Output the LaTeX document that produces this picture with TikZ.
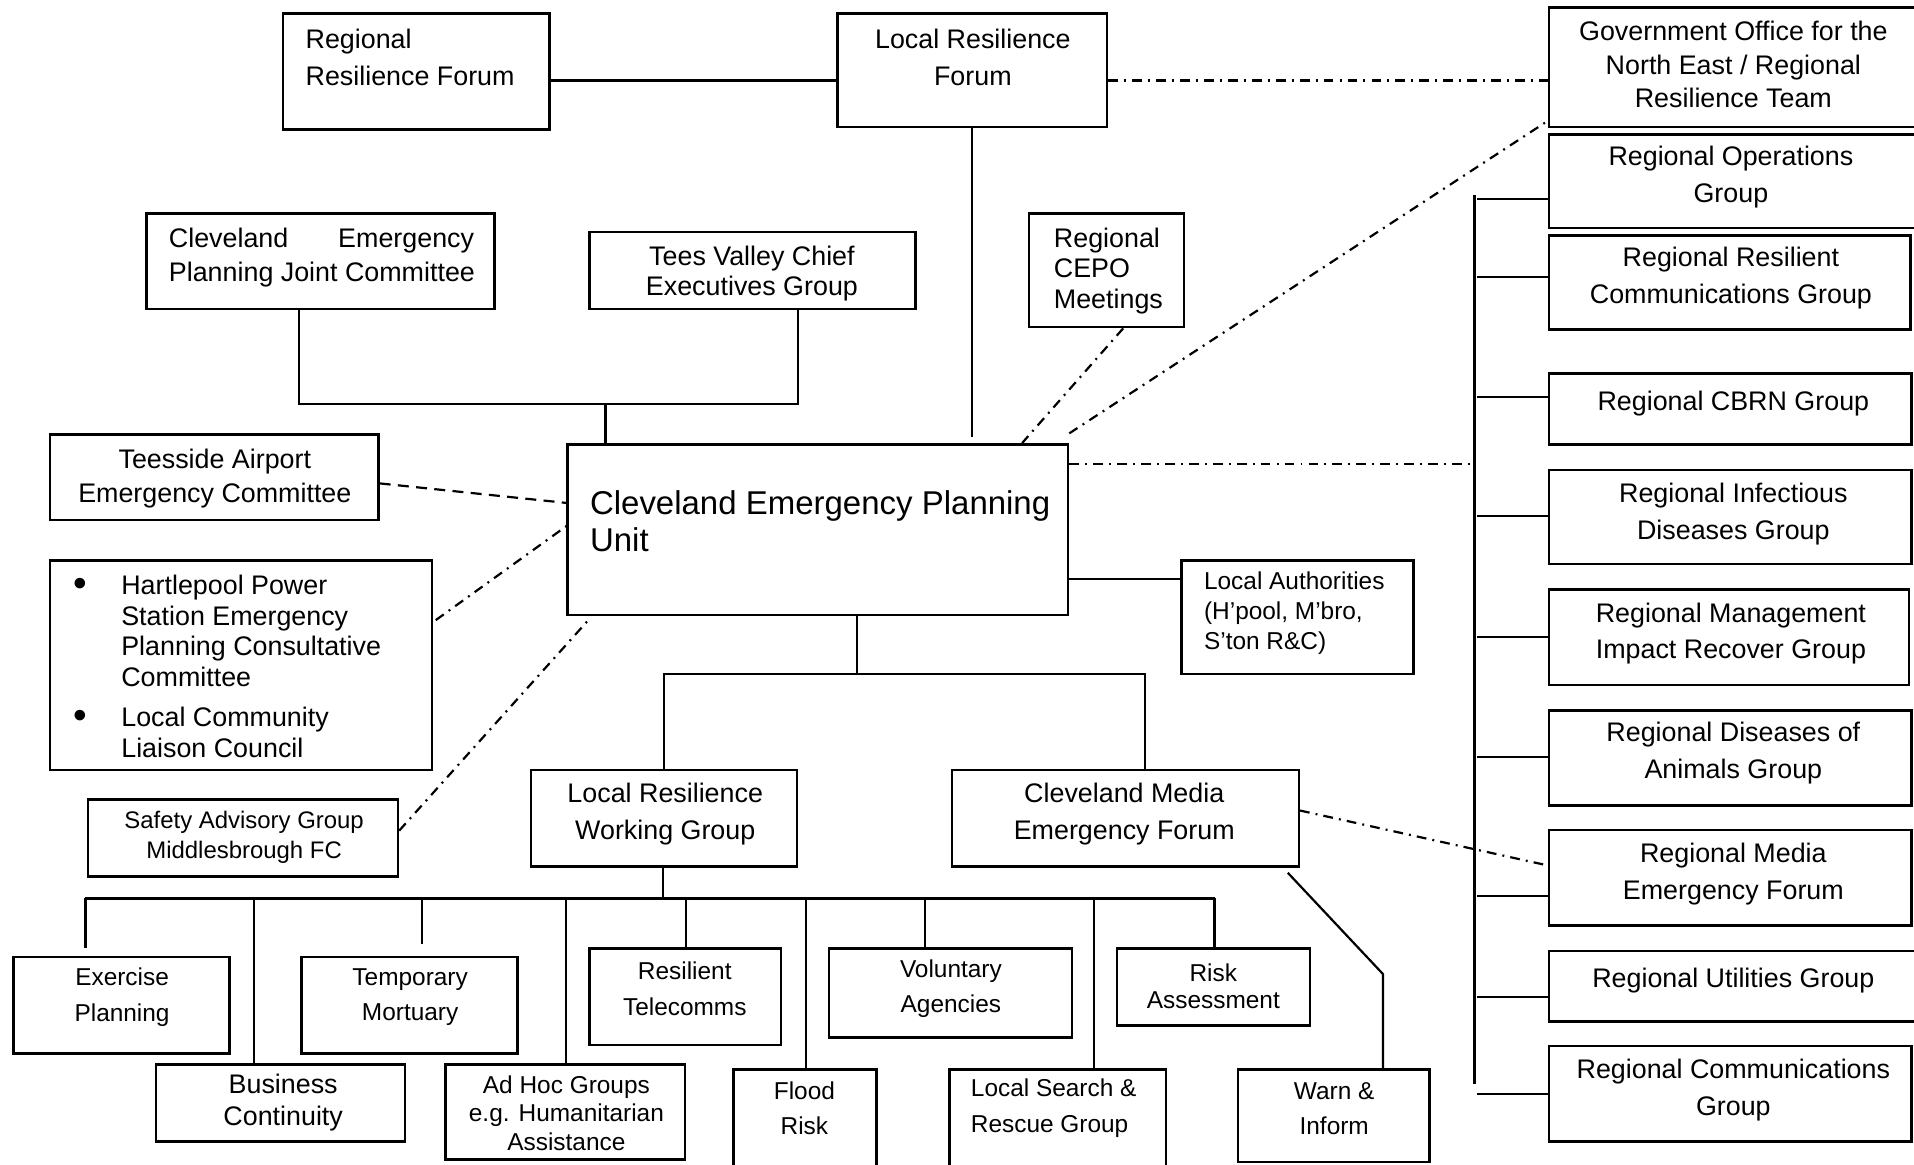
\documentclass[tikz,border=0pt]{standalone}
\usepackage{fontspec}
\setmainfont{Liberation Sans}
\usetikzlibrary{fit}
\newcommand\bigbul{\raisebox{-0.6pt}{\scalebox{1.45}{\textbullet}}}
\begin{document}
\begin{tikzpicture}[x=0.5pt,y=-0.5pt,
  box/.style={draw, line width=1pt, inner sep=0pt},
  txt/.style={inner sep=0pt, align=center, font=\fontsize{11}{15}\selectfont},
  txts/.style={inner sep=0pt, align=center, font=\fontsize{10}{14.5}\selectfont},
  conn/.style={line width=0.9pt},
  thinconn/.style={line width=0.7pt},
  dd/.style={line width=0.9pt, dash pattern=on 4pt off 2.5pt on 0.8pt off 2.5pt},
  dsh/.style={line width=0.9pt, dash pattern=on 4.5pt off 3pt}]
\useasboundingbox (0,0) rectangle (1568,954);
\clip (0,0) rectangle (1568,954);

% ---------- boxes ----------
\node[box, fit={(232,11) (450,106)}] (rrf) {};
\node[box, fit={(686,11) (907,104)}] (lrf) {};
\node[box, fit={(1269,6) (1572,104)}] (gov) {};
\node[box, fit={(1269,110) (1572,187)}] (rog) {};
\node[box, fit={(1269,193) (1565,270)}] (rrcg) {};
\node[box, fit={(1269,306) (1566,364)}] (cbrn) {};
\node[box, fit={(1269,385) (1566,462)}] (rid) {};
\node[box, fit={(1269,483) (1564,561)}] (rmig) {};
\node[box, fit={(1269,582) (1566,660)}] (rda) {};
\node[box, fit={(1269,680) (1566,758)}] (rmef) {};
\node[box, fit={(1269,779) (1572,837)}] (rug) {};
\node[box, fit={(1269,857) (1566,935)}] (rcg) {};
\node[box, fit={(120,175) (405,253)}] (cepjc) {};
\node[box, fit={(483,190) (750,253)}] (tvc) {};
\node[box, fit={(843,175) (970,268)}] (cepo) {};
\node[box, fit={(41,356) (310,426)}] (tac) {};
\node[box, fit={(465,364) (875,504)}] (cepu) {};
\node[box, fit={(41,459) (354,631)}] (hpl) {};
\node[box, fit={(72,655) (326,718)}] (sag) {};
\node[box, fit={(968,459) (1158,552)}] (la) {};
\node[box, fit={(435,631) (653,710)}] (lrwg) {};
\node[box, fit={(780,631) (1064,710)}] (cmef) {};
\node[box, fit={(11,784) (188,863)}] (ep) {};
\node[box, fit={(247,784) (424,863)}] (tm) {};
\node[box, fit={(483,777) (640,856)}] (rt) {};
\node[box, fit={(679,777) (878,850)}] (va) {};
\node[box, fit={(915,777) (1073,840)}] (ra) {};
\node[box, fit={(128,872) (332,935)}] (bc) {};
\node[box, fit={(365,872) (561,950)}] (ahg) {};
\node[box, fit={(601,876) (718,962)}] (fr) {};
\node[box, fit={(778,876) (955,962)}] (lsr) {};
\node[box, fit={(1014,876) (1171,952)}] (wi) {};

% ---------- texts ----------
\node[txt, align=left, anchor=west] (rrf-t) at (250,47) {Regional\\Resilience Forum};
\node[txt] (lrf-t) at (797,47) {Local Resilience\\Forum};
\node[txt, font=\fontsize{11}{13.75}\selectfont] (gov-t) at (1420,53) {Government Office for the\\North East / Regional\\Resilience Team};
\node[txt] (rog-t) at (1418,145) {Regional Operations\\Group};
\node[txt] (rrcg-t) at (1418,228) {Regional Resilient\\Communications Group};
\node[txt] (cbrn-t) at (1420,331) {Regional CBRN Group};
\node[txt] (rid-t) at (1420,421) {Regional Infectious\\Diseases Group};
\node[txt] (rmig-t) at (1418,519) {Regional Management\\Impact Recover Group};
\node[txt] (rda-t) at (1420,617) {Regional Diseases of\\Animals Group};
\node[txt] (rmef-t) at (1420,716) {Regional Media\\Emergency Forum};
\node[txt] (rug-t) at (1420,803) {Regional Utilities Group};
\node[txt] (rcg-t) at (1420,893) {Regional Communications\\Group};
\node[txt, align=left, anchor=west, font=\fontsize{11}{14}\selectfont] (cepjc-t) at (138,211) {\makebox[125pt][s]{Cleveland Emergency}\\Planning Joint Committee};
\node[txt, font=\fontsize{11}{12}\selectfont] (tvc-t) at (616,224) {Tees Valley Chief\\Executives Group};
\node[txt, align=left, anchor=west, font=\fontsize{11}{12.5}\selectfont] (cepo-t) at (863,222) {Regional\\CEPO\\Meetings};
\node[txt, font=\fontsize{11}{14}\selectfont] (tac-t) at (176,392) {Teesside Airport\\Emergency Committee};
\node[txt, align=left, anchor=west, font=\fontsize{13.5}{15}\selectfont] (cepu-t) at (483,427) {\makebox[188.5pt][s]{Cleveland Emergency Planning}\\Unit};
\node[txt, align=left, anchor=west, font=\fontsize{11}{12.5}\selectfont] (hpl-t) at (99,546) {\llap{\bigbul\hspace{14pt}}Hartlepool Power\\Station Emergency\\Planning Consultative\\Committee\\[4pt]\llap{\bigbul\hspace{14pt}}Local Community\\Liaison Council};
\node[txt, font=\fontsize{9.8}{12}\selectfont] (sag-t) at (200,686) {Safety Advisory Group\\Middlesbrough FC};
\node[txt, align=left, anchor=west, font=\fontsize{10}{12.25}\selectfont] (la-t) at (986,502) {Local Authorities\\(H’pool, M’bro,\\S’ton R\&C)};
\node[txt] (lrwg-t) at (545,667) {Local Resilience\\Working Group};
\node[txt] (cmef-t) at (921,667) {Cleveland Media\\Emergency Forum};
\node[txts] (ep-t) at (100,817) {Exercise\\Planning};
\node[txts] (tm-t) at (336,817) {Temporary\\Mortuary};
\node[txts] (rt-t) at (561,810) {Resilient\\Telecomms};
\node[txts] (va-t) at (779,810) {Voluntary\\Agencies};
\node[txts, font=\fontsize{10}{11}\selectfont] (ra-t) at (994,808) {Risk\\Assessment};
\node[txt, font=\fontsize{11}{13}\selectfont] (bc-t) at (232,903) {Business\\Continuity};
\node[txts, font=\fontsize{10}{11.5}\selectfont] (ahg-t) at (464,912) {Ad Hoc Groups\\e.g. Humanitarian\\Assistance};
\node[txts] (fr-t) at (659,908) {Flood\\Risk};
\node[txts, align=left, anchor=west] (lsr-t) at (795,908) {Local Search \&\\Rescue Group};
\node[txts] (wi-t) at (1093,908) {Warn \&\\Inform};

% ---------- connectors ----------
\coordinate (ytop) at (0,66);
\draw[conn] (rrf.east |- ytop) -- (lrf.west |- ytop);
\draw[dd] (lrf.east |- ytop) -- (gov.west |- ytop);
\coordinate (lrfend) at (796,358);
\draw[thinconn] (lrf.south -| lrfend) -- (lrfend);

\coordinate (ja) at (245,331);
\coordinate (jb) at (496,331);
\coordinate (jc) at (654,331);
\draw[conn] (cepjc.south -| ja) -- (ja) -- (jc) -- (tvc.south -| jc);
\draw[conn] (jb) -- (cepu.north -| jb);

\draw[dd] (cepo.-74) -- (cepu.23.6);
\draw[dd] ([yshift=4pt]cepu.north east) -- ([yshift=3pt]gov.south west);

\coordinate (bustop) at (1208,160);
\coordinate (busbot) at (1208,888);
\draw[conn] (bustop) -- (busbot);
\coordinate (cepuR) at ([yshift=27pt]cepu.east);
\draw[dd] (cepuR) -- (cepuR -| bustop);
\foreach \n/\yy in {rog/163, rrcg/227, cbrn/325, rid/423, rmig/522, rda/620, rmef/734, rug/817, rcg/896} {
  \coordinate (tk-\n) at (1210,\yy);
  \draw[conn] (tk-\n) -- (\n.west |- tk-\n);
}

\draw[dsh] ([yshift=-2.5pt]tac.east) -- ([yshift=11pt]cepu.west);
\draw[dd] ([xshift=1pt,yshift=18.5pt]hpl.east) -- ([yshift=1.5pt]cepu.west);
\draw[dd] ([yshift=3pt]sag.east) -- ([xshift=9pt,yshift=-1.5pt]cepu.south west);

\coordinate (cepuR2) at ([yshift=-20pt]cepu.east);
\draw[conn] (cepuR2) -- (cepuR2 -| la.west);

\coordinate (jm) at (702,552);
\coordinate (jl) at (544,552);
\coordinate (jr) at (938,552);
\draw[conn] (cepu.south -| jm) -- (jm);
\draw[conn] (lrwg.north -| jl) -- (jl) -- (jr) -- (cmef.north -| jr);

\draw[dd] ([yshift=3.25pt]cmef.east) -- ([yshift=5pt]rmef.west);
\coordinate (wbend) at (1133,798);
\draw[conn] ([xshift=-5pt,yshift=-2pt]cmef.south east) -- (wbend) -- (wi.north -| wbend);

\coordinate (lb) at (543,736);
\draw[conn] (lrwg.south -| lb) -- (lb);
\coordinate (bl) at (70,736);
\coordinate (br) at (995,736);
\draw[conn] (bl) -- (br);
\coordinate (d1) at (70,736);
\coordinate (d2) at (208,736);
\coordinate (d3) at (346,736);
\coordinate (d4) at (464,736);
\coordinate (d5) at (562,736);
\coordinate (d6) at (660,736);
\coordinate (d7) at (758,736);
\coordinate (d8) at (896,736);
\coordinate (d9) at (995,736);
\draw[conn] (d1) -- ([yshift=3pt]ep.north -| d1);
\draw[conn] (d2) -- (bc.north -| d2);
\draw[conn] (d3) -- ([yshift=5pt]tm.north -| d3);
\draw[conn] (d4) -- (ahg.north -| d4);
\draw[conn] (d5) -- (rt.north -| d5);
\draw[conn] (d6) -- (fr.north -| d6);
\draw[conn] (d7) -- (va.north -| d7);
\draw[conn] (d8) -- (lsr.north -| d8);
\draw[conn] (d9) -- (ra.north -| d9);
\end{tikzpicture}
\end{document}
